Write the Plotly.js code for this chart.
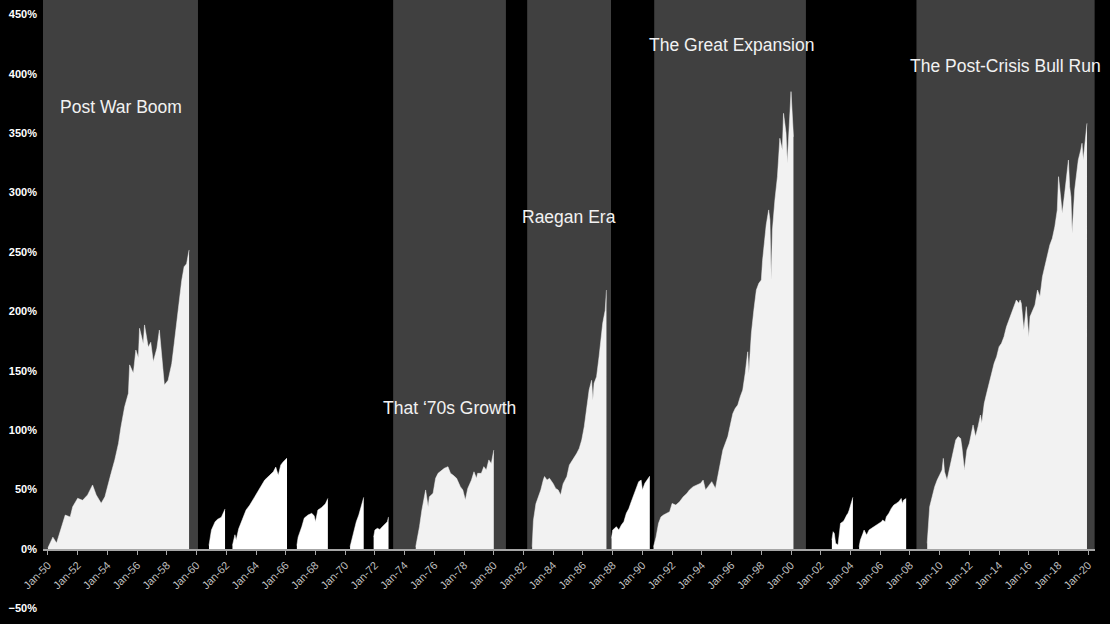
<!DOCTYPE html>
<html>
<head>
<meta charset="utf-8">
<script src="https://cdn.plot.ly/plotly-3.0.1.min.js"></script>
<style>html,body{margin:0;padding:0;background:#000;}#chart{width:1110px;height:624px;}</style>
</head>
<body>
<div id="chart"></div>
<script>
// ---- Bull-market periods (grey bands) ----
const bullNames = ['Post War Boom', 'That \u201870s Growth', 'Raegan Era', 'The Great Expansion', 'The Post-Crisis Bull Run'];
const bullStart = ['1949-09-01', '1973-03-25', '1982-04-01', '1990-10-18', '2008-06-10'];
const bullEnd   = ['1960-02-05', '1980-10-25', '1987-11-21', '2001-01-01', '2020-06-06'];

// ---- Cumulative return (%) inside the named bull markets ----
const postWarDates = ['1950-01','1950-05','1950-08','1950-11','1951-03','1951-07','1951-09','1952-01','1952-05','1952-09','1953-01','1953-04','1953-08','1953-11','1954-01','1954-04','1954-07','1954-10','1954-12','1955-03','1955-06','1955-07','1955-10','1955-12','1956-02','1956-03','1956-06','1956-07','1956-10','1956-12','1957-02','1957-05','1957-07','1957-09','1957-11','1958-02','1958-05','1958-07','1958-10','1959-01','1959-03','1959-05','1959-07'];
const postWarValues = [1,10,5,16,28.6,27,35.6,42.7,41,45.5,53.9,45.5,38.5,44,52.5,63.7,75,89,103,119.8,131,155,148,167.5,161,185.8,172.6,188.6,169.8,174,157.7,169,184.3,158.5,138,142,156,173,201,226,237.6,240,251.7];

const seventiesDates = ['1974-10','1974-11','1975-01','1975-03','1975-04','1975-06','1975-08','1975-09','1975-12','1976-02','1976-04','1976-07','1976-09','1976-12','1977-02','1977-04','1977-07','1977-10','1977-12','1978-02','1978-04','1978-07','1978-09','1978-11','1978-12','1979-03','1979-05','1979-07','1979-09','1979-11','1980-01'];
const seventiesValues = [2,7.6,18.8,32.8,38.4,49.7,35.6,44,46.9,59.5,63.7,66.5,67.9,69.3,63.7,62.3,59.5,52.5,49.7,41.2,51,58,65,59.5,63.7,63.7,69.3,66.5,75,72,83.3];

const reaganDates = ['1982-08','1982-09','1982-11','1983-01','1983-03','1983-05','1983-06','1983-08','1983-10','1984-01','1984-03','1984-05','1984-07','1984-09','1984-11','1984-12','1985-02','1985-05','1985-07','1985-08','1985-10','1985-12','1986-02','1986-04','1986-06','1986-08','1986-09','1986-10','1986-12','1987-02','1987-04','1987-05','1987-07','1987-08'];
const reaganValues = [2,24,38,44,49.7,58,61,58,59.5,55,51,49.7,45.5,55,59.5,61,70.7,75,79,80.5,84.7,91.8,103,118.4,133.8,142,125.4,139.5,145,162,178.7,190,201,218];

const expansionDates = ['1990-10','1990-12','1991-02','1991-04','1991-06','1991-09','1991-11','1992-01','1992-04','1992-07','1992-10','1993-01','1993-03','1993-06','1993-09','1993-12','1994-02','1994-04','1994-06','1994-09','1994-12','1995-02','1995-04','1995-06','1995-08','1995-10','1995-12','1996-02','1996-04','1996-06','1996-08','1996-10','1996-12','1997-02','1997-03','1997-05','1997-07','1997-09','1997-11','1998-01','1998-02','1998-04','1998-05','1998-07','1998-08','1998-09','1998-10','1998-12','1999-02','1999-04','1999-06','1999-07','1999-09','1999-10','1999-12','2000-01','2000-03'];
const expansionValues = [2,10,21.6,27,28.6,30,31.4,38.4,37,39.8,44,46.9,49.7,52.5,53.9,55.3,58,49.7,52.5,56.7,51,61,72,83.3,89,94.6,104.4,114,118.4,121.2,128.2,133.8,147.9,166,147.9,181.5,201,218,223.6,226.4,243,265.7,272.7,285.4,277,226.4,268.5,293.8,313.4,345.7,335.9,366.7,350,324.6,361,385,347];

const postCrisisDates = ['2009-03','2009-04','2009-05','2009-07','2009-09','2009-11','2010-01','2010-03','2010-04','2010-05','2010-07','2010-10','2010-12','2011-02','2011-04','2011-06','2011-07','2011-09','2011-11','2012-01','2012-04','2012-06','2012-08','2012-10','2012-11','2013-01','2013-03','2013-05','2013-07','2013-09','2013-11','2014-01','2014-03','2014-05','2014-07','2014-09','2014-11','2015-01','2015-03','2015-05','2015-06','2015-07','2015-09','2015-11','2016-01','2016-02','2016-04','2016-06','2016-08','2016-10','2016-12','2017-02','2017-04','2017-06','2017-08','2017-10','2017-12','2018-01','2018-03','2018-04','2018-06','2018-08','2018-09','2018-10','2018-11','2018-12','2019-02','2019-04','2019-05','2019-07','2019-08','2019-09','2019-11','2019-12'];
const postCrisisValues = [4.8,24.4,35.6,44,52.5,58,62.3,66.5,76.3,65,58,72,80.5,91.8,94.6,93,86,66.5,83.3,89,104.4,94.6,103,112.8,105.8,122.6,131,139.5,147.9,156.3,161.9,170.3,173.1,178.7,187,192.8,198.4,204,209.6,206.8,209.6,206.8,184.3,204,178.7,195.6,201.2,205.4,218,212.4,229.2,237.7,246,255.9,261.5,271.3,285.4,313.4,293.7,282.5,299.4,316.2,327.4,305,296.6,265.7,302.2,319,327.4,335.9,341.5,327.4,347,358.3];

// ---- Cumulative return (%) of the shorter rallies between them ----
const rally1960Dates = ['1960-11','1961-01','1961-04','1961-06','1961-09','1961-10','1961-12'];
const rally1960Values = [3,16,23,25,26.7,28.6,33.7];
const rally1962Dates = ['1962-06','1962-08','1962-09','1962-11','1963-02','1963-05','1963-08','1963-12','1964-04','1964-08','1964-12','1965-03','1965-05','1965-07','1965-09','1965-11','1966-02'];
const rally1962Values = [3,12,7.6,17,25,32.8,37,44,51,58,62,65,69,62,70.7,73.5,76.6];
const rally1966Dates = ['1966-10','1966-11','1967-02','1967-04','1967-07','1967-10','1967-12','1968-01','1968-03','1968-06','1968-09','1968-11'];
const rally1966Values = [3,10,19,26,28.6,30,28,23,32.8,35,38,42.6];
const rally1970Dates = ['1970-05','1970-06','1970-08','1970-10','1970-12','1971-02','1971-04'];
const rally1970Values = [2,6,16,23,28.6,35.6,43.5];
const rally1971Dates = ['1971-12','1972-01','1972-03','1972-05','1972-07','1972-09','1972-11','1972-12'];
const rally1971Values = [10,16,17.4,16.5,18.8,20.8,23,27];
const rally1987Dates = ['1987-12','1988-01','1988-04','1988-06','1988-08','1988-10','1988-12','1989-02','1989-04','1989-06','1989-08','1989-10','1989-12','1990-01','1990-03','1990-05','1990-07'];
const rally1987Values = [9,16,18.8,16,20.2,23,30,34,39.8,45.5,52.5,56.7,58,49.7,55.3,58,61.4];
const rally2002Dates = ['2002-10','2002-11','2002-12','2003-01','2003-03','2003-04','2003-05','2003-07','2003-08','2003-10','2003-11','2003-12','2004-02','2004-03'];
const rally2002Values = [7.6,14.6,13,4.8,3.4,13,21.6,23,24.4,28.6,30,32.8,39.8,43.5];
const rally2004Dates = ['2004-08','2004-09','2004-11','2004-12','2005-02','2005-04','2005-06','2005-08','2005-10','2005-12','2006-02','2006-03','2006-05','2006-06','2006-08','2006-10','2006-12','2007-02','2007-04','2007-06','2007-07','2007-08','2007-10'];
const rally2004Values = [2,7.6,13,16,11.8,16,17.4,18.8,20.2,21.6,23,24.4,23,27.2,30,34.2,37,38.4,39.8,42.6,38.4,41.2,42.6];

// ---- Axis ticks ----
const yTickValues = [-50,0,50,100,150,200,250,300,350,400,450];

const bullSeries = [
  [postWarDates, postWarValues], [seventiesDates, seventiesValues], [reaganDates, reaganValues],
  [expansionDates, expansionValues], [postCrisisDates, postCrisisValues]
];
const rallySeries = [
  [rally1960Dates, rally1960Values], [rally1962Dates, rally1962Values], [rally1966Dates, rally1966Values],
  [rally1970Dates, rally1970Values], [rally1971Dates, rally1971Values], [rally1987Dates, rally1987Values],
  [rally2002Dates, rally2002Values], [rally2004Dates, rally2004Values]
];

const yMin = -54.7, yMax = 462.1;

function areaTrace(s, color) {
  return {
    type: 'scatter', mode: 'lines', x: s[0], y: s[1],
    fill: 'tozeroy', fillcolor: color,
    line: {color: color, width: 0.5, shape: 'linear'},
    hoverinfo: 'x+y', showlegend: false
  };
}

const traces = bullSeries.map(s => areaTrace(s, '#f2f2f2'))
  .concat(rallySeries.map(s => areaTrace(s, '#ffffff')));

const shapes = bullStart.map((s, i) => ({
  type: 'rect', xref: 'x', yref: 'y', x0: s, x1: bullEnd[i], y0: 0, y1: yMax,
  fillcolor: '#404040', line: {width: 0}, layer: 'below'
}));

const labelPos = [
  {x: '1954-12-04', y: 372},
  {x: '1977-01-18', y: 118.7},
  {x: '1985-02-03', y: 279.5},
  {x: '1995-12-19', y: 424.2},
  {x: '2014-06-01', y: 406.6}
];
const annotations = bullNames.map((n, i) => ({
  text: n, x: labelPos[i].x, y: labelPos[i].y, xref: 'x', yref: 'y',
  showarrow: false, xanchor: 'center', yanchor: 'middle',
  font: {family: 'Liberation Sans, Arial, sans-serif', size: 17.5, color: '#f2f2f2'}
}));

const layout = {
  width: 1110, height: 624,
  paper_bgcolor: '#000000', plot_bgcolor: '#000000',
  margin: {l: 43, r: 15, t: 0, b: 10},
  showlegend: false,
  xaxis: {
    type: 'date', range: ['1949-09-01', '2020-06-15'],
    tick0: '1950-01-01', dtick: 'M24', tickformat: '%b-%y', tickangle: -45,
    tickfont: {family: 'Liberation Sans, Arial, sans-serif', size: 11, color: '#bfbfbf'},
    showgrid: false, zeroline: false, showline: true, linecolor: '#a6a6a6', linewidth: 1.5,
    ticks: 'outside', ticklen: 4, tickcolor: '#a6a6a6', tickwidth: 1,
    anchor: 'free', position: (0 - yMin) / (yMax - yMin), automargin: false, fixedrange: true
  },
  yaxis: {
    range: [yMin, yMax], tickmode: 'array', tickvals: yTickValues,
    ticktext: yTickValues.map(v => (v < 0 ? '\u2212' + Math.abs(v) : v) + '%'),
    tickfont: {family: 'Liberation Sans, Arial, sans-serif', size: 11, color: '#ffffff', weight: 'bold'},
    ticklabelstandoff: 5,
    showgrid: false, zeroline: false, showline: false, ticks: '', automargin: false, fixedrange: true
  },
  shapes: shapes,
  annotations: annotations
};

Plotly.newPlot('chart', traces, layout, {displayModeBar: false, staticPlot: true});
</script>
</body>
</html>
